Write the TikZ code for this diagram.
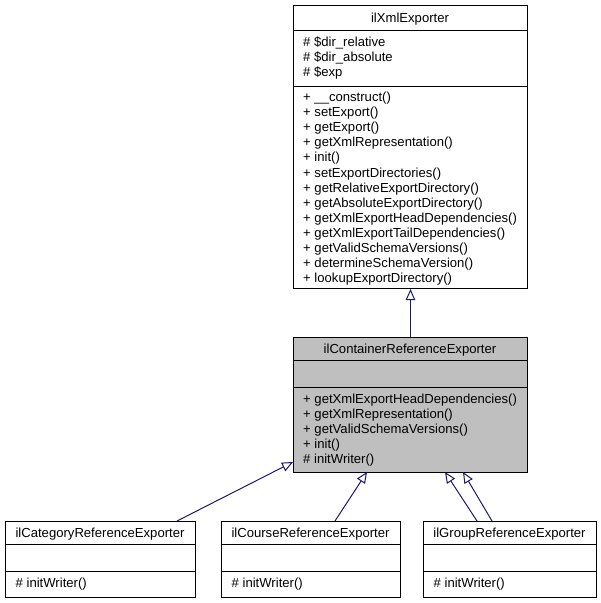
\documentclass[tikz,border=0pt]{standalone}
\usepackage{fontspec}
\setmainfont{Liberation Sans}
\usetikzlibrary{arrows.meta}
\definecolor{boxgray}{RGB}{191,191,191}
\definecolor{edgeblue}{RGB}{25,25,112}
\begin{document}
\begin{tikzpicture}[x=1pt,y=-1pt,
  every node/.style={font=\fontsize{13.1}{15}\selectfont},
  classbox/.style={draw=black, line width=1pt, rectangle, inner sep=0pt, anchor=north west},
  divider/.style={draw=black, line width=1pt},
  member/.style={anchor=base west, inner sep=0pt},
  ctitle/.style={anchor=base, inner sep=0pt},
  inherit/.style={draw=edgeblue, line width=1pt, -{Triangle[open, length=11pt, width=9.5pt]}}
]
\useasboundingbox (0,0) rectangle (601,603);
\fill[white] (0,0) rectangle (601,603);

% ---------- ilXmlExporter ----------
\node[classbox, minimum width=234pt, minimum height=283pt] (xml) at (293,5) {};
\draw[divider] (293,30) -- (527,30);
\draw[divider] (293,86) -- (527,86);
\node[ctitle] (xmlT) at (410,22) {ilXmlExporter};
\node[member] (xa1) at (303,46) {\# \$dir\_relative};
\node[member] (xa2) at (303,61) {\# \$dir\_absolute};
\node[member] (xa3) at (303,76) {\# \$exp};
\foreach \t [count=\i from 0] in {+ \_\_construct(), + setExport(), + getExport(), + getXmlRepresentation(), + init(), + setExportDirectories(), + getRelativeExportDirectory(), + getAbsoluteExportDirectory(), + getXmlExportHeadDependencies(), + getXmlExportTailDependencies(), + getValidSchemaVersions(), + determineSchemaVersion(), + lookupExportDirectory()}
  \node[member] (xm\i) at (303,{101.5+15.1*\i}) {\t};

% ---------- ilContainerReferenceExporter ----------
\node[classbox, fill=boxgray, minimum width=234pt, minimum height=135pt] (cont) at (293,337) {};
\draw[divider] (293,360) -- (527,360);
\draw[divider] (293,387) -- (527,387);
\node[ctitle] (contT) at (410,353.5) {ilContainerReferenceExporter};
\foreach \t [count=\i from 0] in {+ getXmlExportHeadDependencies(), + getXmlRepresentation(), + getValidSchemaVersions(), + init(), \# initWriter()}
  \node[member] (cm\i) at (303,{403+15*\i}) {\t};

% ---------- bottom classes ----------
\node[classbox, minimum width=190pt, minimum height=76pt] (cat) at (5,521) {};
\draw[divider] (5,544) -- (195,544);
\draw[divider] (5,571) -- (195,571);
\node[ctitle] (catT) at (100,537) {ilCategoryReferenceExporter};
\node[member] (catM) at (15.5,587) {\# initWriter()};

\node[classbox, minimum width=179pt, minimum height=76pt] (course) at (221,521) {};
\draw[divider] (221,544) -- (400,544);
\draw[divider] (221,571) -- (400,571);
\node[ctitle] (courseT) at (310.5,537) {ilCourseReferenceExporter};
\node[member] (courseM) at (231.5,587) {\# initWriter()};

\node[classbox, minimum width=173pt, minimum height=76pt] (group) at (423,521) {};
\draw[divider] (423,544) -- (596,544);
\draw[divider] (423,571) -- (596,571);
\node[ctitle] (groupT) at (509.5,537) {ilGroupReferenceExporter};
\node[member] (groupM) at (433.5,587) {\# initWriter()};

% ---------- connector end points ----------
\coordinate (catTop) at (177,521);
\coordinate (courseTop) at (335,521);
\coordinate (groupTopA) at (477,521);
\coordinate (groupTopB) at (492,521);
\coordinate (contL) at (293,462);
\coordinate (contB1) at (367,472);
\coordinate (contB2) at (445,472);
\coordinate (contB3) at (463,472);

% ---------- inheritance arrows ----------
\draw[inherit] (cont.north) -- (xml.south);
\draw[inherit] (catTop) -- (contL);
\draw[inherit] (courseTop) -- (contB1);
\draw[inherit] (groupTopA) -- (contB2);
\draw[inherit] (groupTopB) -- (contB3);
\end{tikzpicture}
\end{document}
